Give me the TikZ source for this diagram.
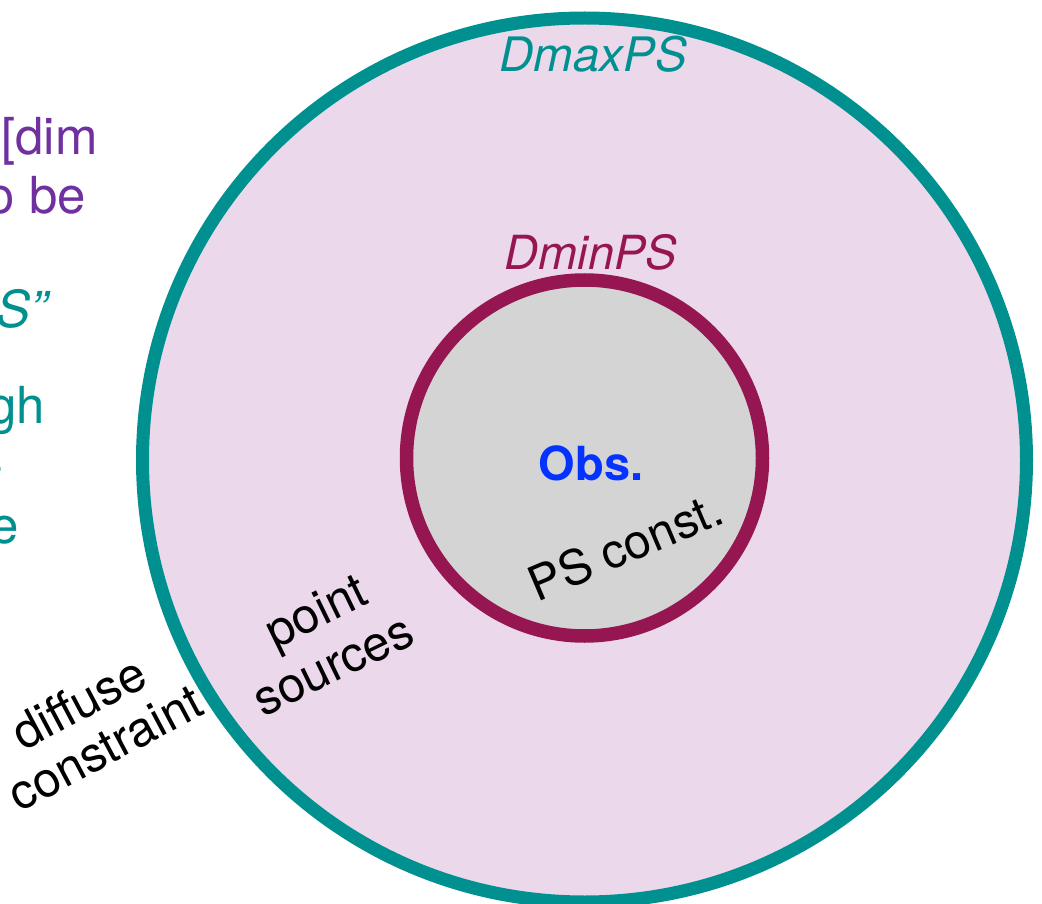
\documentclass[tikz,border=0pt]{standalone}
\usepackage{fontspec}
\setmainfont{TeX Gyre Heros}
\definecolor{tealc}{RGB}{0,144,144}
\definecolor{maroonc}{RGB}{150,22,82}
\definecolor{pinkc}{RGB}{235,217,235}
\definecolor{grayc}{RGB}{212,212,212}
\definecolor{bluec}{RGB}{4,51,255}
\definecolor{purplec}{RGB}{112,48,160}
\tikzset{
  lbl/.style={inner sep=0pt, anchor=base, font=\fontsize{49}{58}\selectfont},
  side/.style={inner sep=0pt, anchor=base east, font=\fontsize{51}{60}\selectfont},
}
\begin{document}
\begin{tikzpicture}[x=1pt,y=-1pt]
\useasboundingbox (0,0) rectangle (1042,904);
\clip (0,0) rectangle (1042,904);
% circles
\node[circle, draw=tealc, line width=13pt, fill=pinkc, minimum size=884pt, inner sep=0pt] (outer) at (584.5,460) {};
\node[circle, draw=maroonc, line width=13.5pt, fill=grayc, minimum size=356pt, inner sep=0pt] (inner) at (584.5,458) {};
% labels
\node[lbl, text=tealc, font=\fontsize{47.5}{56}\selectfont\itshape] (dmax) at (593,72) {DmaxPS};
\node[lbl, text=maroonc, font=\fontsize{47}{56}\selectfont\itshape] (dmin) at (591,270) {DminPS};
\node[lbl, text=bluec, font=\fontsize{47}{56}\selectfont\bfseries] (obs) at (591,480) {Obs.};
\node[lbl, font=\fontsize{48}{57}\selectfont, rotate=23] (psc) at (632,562) {PS const.};
\node[lbl, rotate=26] (pt) at (323,626) {point};
\node[lbl, rotate=26] (src) at (340,680) {sources};
\node[lbl, rotate=28] (dif) at (87,718) {diffuse};
\node[lbl, rotate=28] (con) at (113,763) {constraint};
% clipped side text
\node[side, text=purplec] (s1) at (98,155) {[dim};
\node[side, text=purplec] (s2) at (86,214) {o be};
\node[side, text=tealc, font=\fontsize{51}{60}\selectfont\itshape] (s3) at (48,327) {S”};
\node[side, text=tealc] (s4) at (45,423) {gh};
\node[side, text=tealc] (s5) at (4,483) {-};
\node[side, text=tealc] (s6) at (19,543) {e};
\end{tikzpicture}
\end{document}
